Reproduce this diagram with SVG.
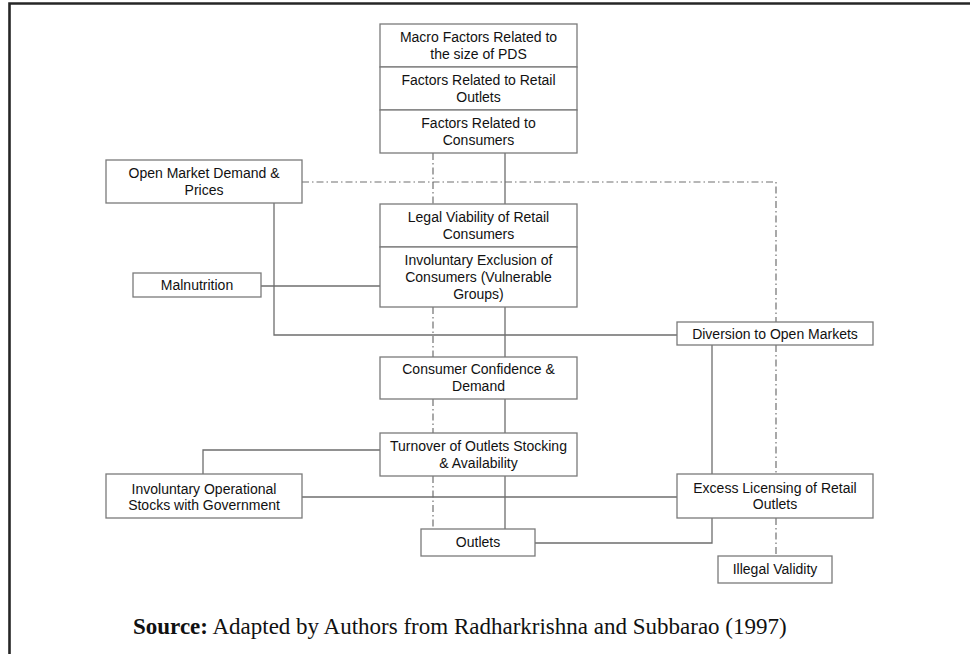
<svg xmlns="http://www.w3.org/2000/svg" width="970" height="654" viewBox="0 0 970 654">
<style>
.box{fill:#fff;stroke:#7a7a7a;stroke-width:1.3}
.t{font-family:"Liberation Sans",Arial,sans-serif;font-size:14px;fill:#111;text-anchor:middle}
.s{fill:none;stroke:#6e6e6e;stroke-width:1.3}
.d{fill:none;stroke:#707070;stroke-width:1.2;stroke-dasharray:7 3 1.5 3}
</style>
<rect width="970" height="654" fill="#fff"/>
<path d="M9.5,654 V3.5 H970" fill="none" stroke="#262626" stroke-width="2.6"/>
<g id="connectors">
<path class="d" d="M302,182 H776 V322 M776,345 V474 M776,518 V556"/>
<path class="d" d="M433,153 V204 M433,307 V357 M433,399 V433 M433,476 V529"/>
<path class="s" d="M505,153 V204 M505,307 V357 M505,399 V433 M505,476 V529"/>
<path class="s" d="M274,203 V335 H677"/>
<path class="s" d="M261,286 H380"/>
<path class="s" d="M380,450 H203 V474"/>
<path class="s" d="M302,497 H677"/>
<path class="s" d="M712,345 V474 M712,518 V543 H535"/>
</g>
<g id="macro"><rect class="box" x="380" y="24" width="197" height="43"/><text class="t" x="478.5" y="42">Macro Factors Related to</text><text class="t" x="478.5" y="59">the size of PDS</text></g>
<g id="retail"><rect class="box" x="380" y="67" width="197" height="43"/><text class="t" x="478.5" y="85">Factors Related to Retail</text><text class="t" x="478.5" y="102">Outlets</text></g>
<g id="consumers"><rect class="box" x="380" y="110" width="197" height="43"/><text class="t" x="478.5" y="128">Factors Related to</text><text class="t" x="478.5" y="145">Consumers</text></g>
<g id="openmarket"><rect class="box" x="106" y="160" width="196" height="43"/><text class="t" x="204" y="178">Open Market Demand &amp;</text><text class="t" x="204" y="195">Prices</text></g>
<g id="legal"><rect class="box" x="380" y="204" width="197" height="43"/><text class="t" x="478.5" y="222">Legal Viability of Retail</text><text class="t" x="478.5" y="239">Consumers</text></g>
<g id="exclusion"><rect class="box" x="380" y="247" width="197" height="60"/><text class="t" x="478.5" y="265">Involuntary Exclusion of</text><text class="t" x="478.5" y="282">Consumers (Vulnerable</text><text class="t" x="478.5" y="299">Groups)</text></g>
<g id="malnutrition"><rect class="box" x="133" y="273" width="128" height="24"/><text class="t" x="197" y="290">Malnutrition</text></g>
<g id="diversion"><rect class="box" x="677" y="322" width="196" height="23"/><text class="t" x="775" y="339">Diversion to Open Markets</text></g>
<g id="confidence"><rect class="box" x="380" y="357" width="197" height="42"/><text class="t" x="478.5" y="374">Consumer Confidence &amp;</text><text class="t" x="478.5" y="391">Demand</text></g>
<g id="turnover"><rect class="box" x="380" y="433" width="197" height="43"/><text class="t" x="478.5" y="451">Turnover of Outlets Stocking</text><text class="t" x="478.5" y="468">&amp; Availability</text></g>
<g id="operational"><rect class="box" x="106" y="474" width="196" height="44"/><text class="t" x="204" y="494">Involuntary Operational</text><text class="t" x="204" y="510">Stocks with Government</text></g>
<g id="licensing"><rect class="box" x="677" y="474" width="196" height="44"/><text class="t" x="775" y="493">Excess Licensing of Retail</text><text class="t" x="775" y="509">Outlets</text></g>
<g id="outlets"><rect class="box" x="421" y="529" width="114" height="27"/><text class="t" x="478" y="547">Outlets</text></g>
<g id="illegal"><rect class="box" x="718" y="556" width="114" height="27"/><text class="t" x="775" y="574">Illegal Validity</text></g>
<text x="133" y="634" font-family="'Liberation Serif','Times New Roman',serif" font-size="23" fill="#111"><tspan font-weight="bold">Source:</tspan> Adapted by Authors from Radharkrishna and Subbarao (1997)</text>
</svg>
